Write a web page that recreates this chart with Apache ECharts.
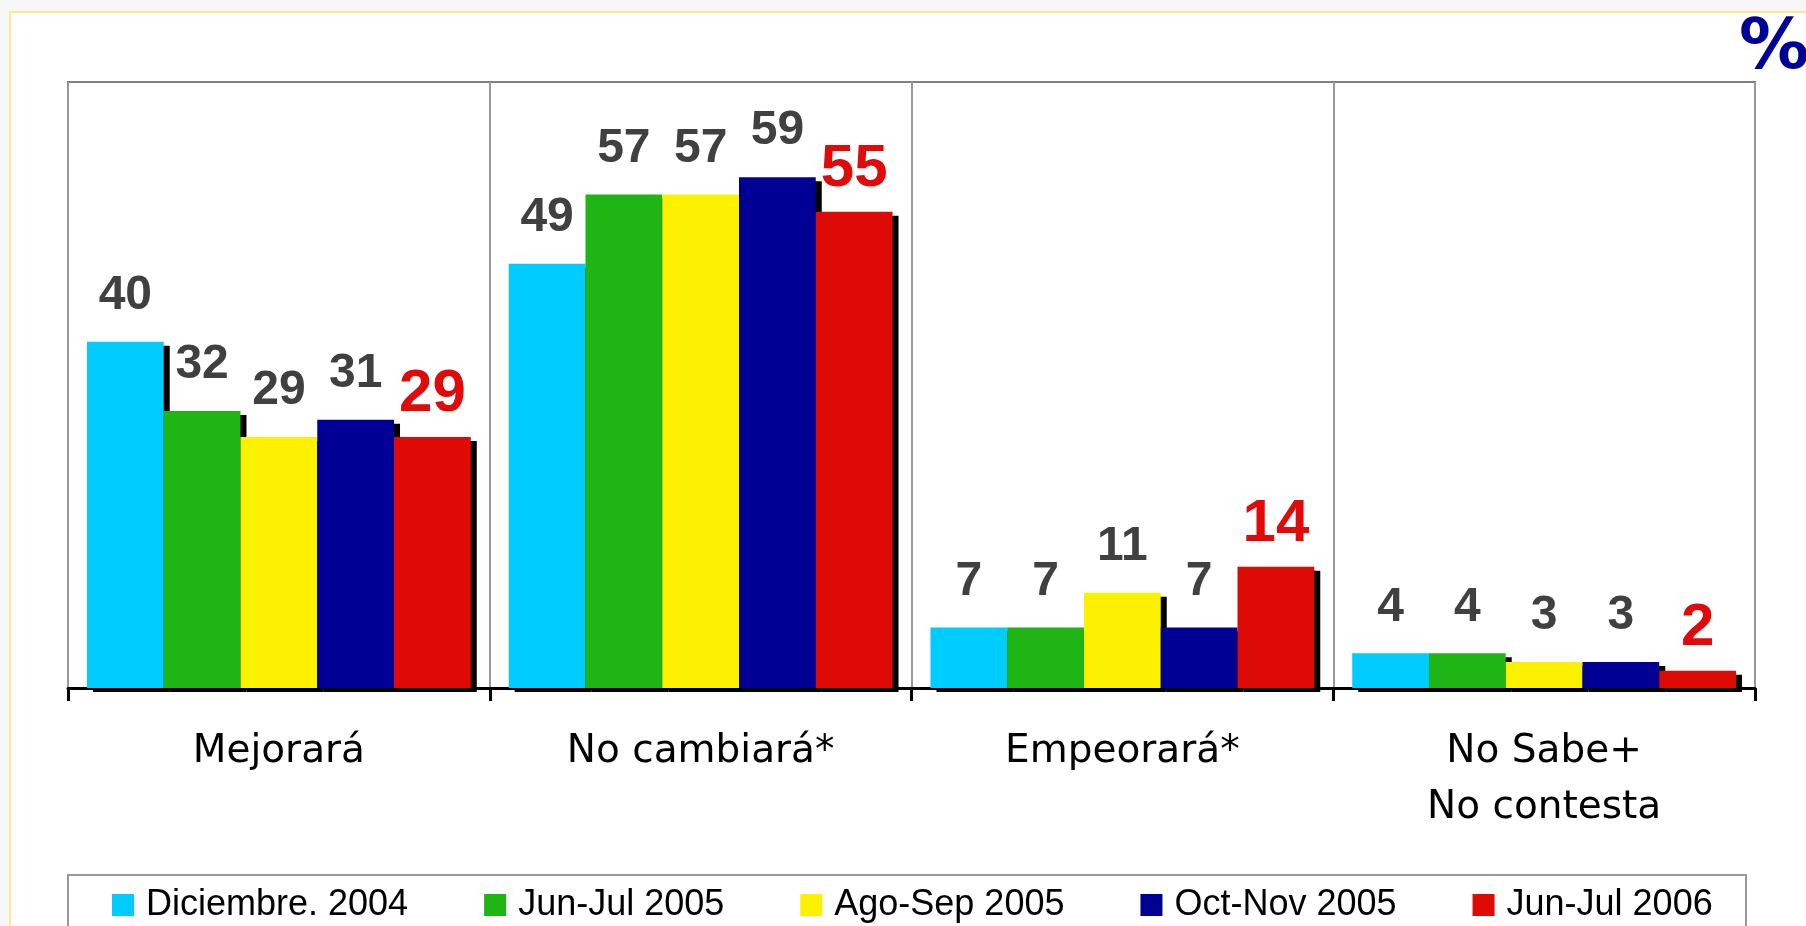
<!DOCTYPE html>
<html>
<head>
<meta charset="utf-8">
<script src="https://cdn.jsdelivr.net/npm/echarts@6/dist/echarts.min.js"></script>
<style>
  html, body { margin: 0; padding: 0; background: #f7f7f7; }
  #frame { position: absolute; left: 9px; top: 11px; width: 1900px; height: 1000px;
           background: #fff; border: 2px solid #ffe98c; box-sizing: border-box; }
  #chart { position: absolute; left: 0; top: 0; width: 1806px; height: 926px; }
</style>
</head>
<body>
<div id="frame"></div>
<div id="chart"></div>
<script>
// datos del grafico
var categories = ['Mejorará', 'No cambiará*', 'Empeorará*', 'No Sabe+\nNo contesta'];
var periods = ['Diciembre. 2004', 'Jun-Jul 2005', 'Ago-Sep 2005', 'Oct-Nov 2005', 'Jun-Jul 2006'];
var dic2004 = [40, 49, 7, 4];
var junJul2005 = [32, 57, 7, 4];
var agoSep2005 = [29, 57, 11, 3];
var octNov2005 = [31, 59, 7, 3];
var junJul2006 = [29, 55, 14, 2];

var seriesData = [dic2004, junJul2005, agoSep2005, octNov2005, junJul2006];
var colors = ['#00ccff', '#1fb515', '#fcf200', '#000095', '#de0a05'];

var series = seriesData.map(function (values, i) {
    var last = i === seriesData.length - 1;
    return {
        name: periods[i],
        type: 'bar',
        data: values,
        barGap: '0%',
        barCategoryGap: '9%',
        itemStyle: {
            color: colors[i],
            shadowColor: '#000',
            shadowBlur: 0,
            shadowOffsetX: 6,
            shadowOffsetY: 4
        },
        label: {
            show: true,
            position: 'top',
            distance: last ? 12 : 22,
            fontFamily: 'Liberation Sans',
            fontWeight: 'bold',
            fontSize: last ? 60 : 48,
            color: last ? '#e00a0a' : '#404040'
        }
    };
});

var option = {
    animation: false,
    grid: {
        left: 68, right: 51, top: 82, bottom: 238,
        show: true,
        borderColor: '#808080',
        borderWidth: 2
    },
    legend: {
        data: periods,
        left: 112,
        top: 887,
        padding: 0,
        itemWidth: 22,
        itemHeight: 22,
        itemGap: 76,
        icon: 'rect',
        itemStyle: { shadowColor: 'rgba(0,0,0,0)', shadowOffsetX: 0, shadowOffsetY: 0 },
        textStyle: {
            fontFamily: 'Liberation Sans',
            fontSize: 36,
            color: '#000',
            padding: [0, 0, 0, 7]
        }
    },
    xAxis: {
        type: 'category',
        data: categories,
        axisLine: { show: true, lineStyle: { color: '#000', width: 3 } },
        axisTick: { show: true, interval: 0, alignWithLabel: false, inside: false, length: 13,
                    lineStyle: { color: '#000', width: 3 } },
        splitLine: { show: true, interval: 0, lineStyle: { color: '#999', width: 2 } },
        axisLabel: {
            interval: 0,
            margin: 36,
            fontFamily: 'DejaVu Sans',
            fontSize: 39,
            lineHeight: 56,
            color: '#000'
        }
    },
    yAxis: {
        type: 'value',
        min: 0,
        max: 70,
        show: false
    },
    graphic: [
        {
            type: 'rect',
            shape: { x: 68, y: 875, width: 1678, height: 80 },
            style: { fill: 'none', stroke: '#999', lineWidth: 2 }
        },
        {
            type: 'text',
            left: 1739,
            top: 15,
            style: {
                text: '%',
                fontFamily: 'DejaVu Sans',
                fontWeight: 'bold',
                fontSize: 70,
                fill: '#000099'
            }
        }
    ],
    series: series
};

var myChart = echarts.init(document.getElementById('chart'));
myChart.setOption(option);
</script>
</body>
</html>
